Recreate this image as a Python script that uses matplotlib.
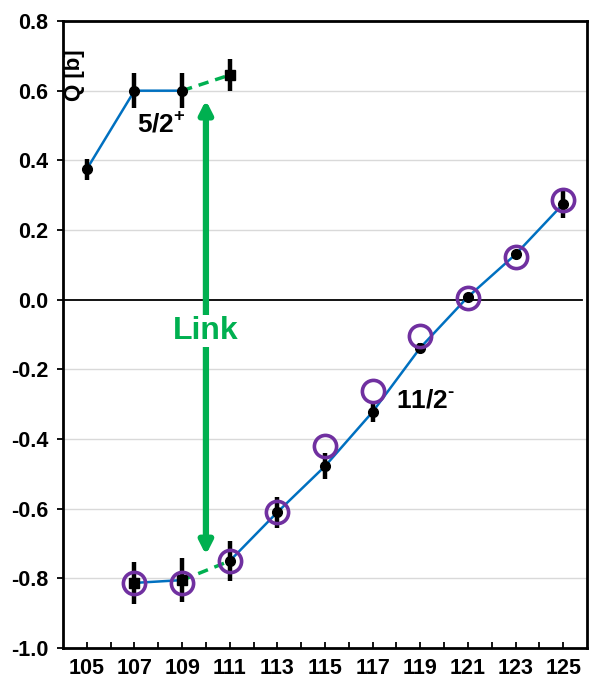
import matplotlib
matplotlib.use("Agg")
import matplotlib.pyplot as plt
from matplotlib.ticker import FixedLocator

plt.rcParams['font.family'] = ['Liberation Sans', 'DejaVu Sans']
plt.rcParams['mathtext.fontset'] = 'custom'
plt.rcParams['mathtext.rm'] = 'Liberation Sans:bold'
plt.rcParams['mathtext.bf'] = 'Liberation Sans:bold'

# 5/2+ band
upper_n = [105, 107, 109]
upper_q = [0.375, 0.60, 0.60]
upper_err = [0.03, 0.05, 0.05]
upper_link_n = [109, 111]
upper_link_q = [0.60, 0.645]
upper_link_err = 0.047

# 11/2- band: measured values
lower_n = [107, 109, 111, 113, 115, 117, 119, 121, 123, 125]
lower_q = [-0.813, -0.805, -0.75, -0.61, -0.478, -0.322, -0.138, 0.008, 0.13, 0.275]
lower_err = [0.06, 0.063, 0.058, 0.045, 0.037, 0.03, 0.015, 0.008, 0.01, 0.04]
# 11/2- band: calculated values
calc_q = [-0.813, -0.813, -0.75, -0.61, -0.42, -0.262, -0.104, 0.005, 0.123, 0.285]

y_ticks = [-1.0, -0.8, -0.6, -0.4, -0.2, 0.0, 0.2, 0.4, 0.6, 0.8]
x_labels = [105, 107, 109, 111, 113, 115, 117, 119, 121, 123, 125]

blue = '#0070C0'
green = '#00B050'
purple = '#7030A0'

fig = plt.figure(figsize=(5.89, 6.78), dpi=100)
ax = fig.add_axes([0.107, 0.0442, 0.8896, 0.9248])
ax.set_xlim(104, 126)
ax.set_ylim(-1.0, 0.8)

# grid
for y in y_ticks:
    if y not in (0.0, -1.0, 0.8):
        ax.axhline(y, color='#D9D9D9', lw=1.0, zorder=0)
ax.plot([104, 125.8], [0, 0], color='black', lw=1.3, zorder=1)

# connecting lines
ax.plot(upper_n, upper_q, color=blue, lw=1.8, zorder=2)
ax.plot(upper_link_n, upper_link_q, color=green, lw=2.5, ls=(0, (3, 2)), zorder=2)
ax.plot(lower_n[:2], lower_q[:2], color=blue, lw=1.8, zorder=2)
ax.plot(lower_n[1:3], lower_q[1:3], color=green, lw=2.5, ls=(0, (3, 2)), zorder=2)
ax.plot(lower_n[2:], lower_q[2:], color=blue, lw=1.8, zorder=2)

# error bars
ekw = dict(fmt='none', ecolor='black', elinewidth=3.2, capsize=0, zorder=3)
ax.errorbar(upper_n, upper_q, yerr=upper_err, **ekw)
ax.errorbar([upper_link_n[1]], [upper_link_q[1]], yerr=[upper_link_err], **ekw)
ax.errorbar(lower_n, lower_q, yerr=lower_err, **ekw)

# measured points
ax.plot(upper_n, upper_q, 'o', color='black', ms=7, zorder=4)
ax.plot([upper_link_n[1]], [upper_link_q[1]], 's', color='black', ms=7, zorder=4)
ax.plot(lower_n[:2], lower_q[:2], 's', color='black', ms=7, zorder=4)
ax.plot(lower_n[2:], lower_q[2:], 'o', color='black', ms=7, zorder=4)

# calculated points
ax.plot(lower_n, calc_q, 'o', mfc='none', mec=purple, mew=2.6, ms=16, zorder=5)

# link arrow
ax.annotate('', xy=(110, -0.733), xytext=(110, 0.573),
            arrowprops=dict(arrowstyle='<|-|>,head_length=0.75,head_width=0.38',
                            color=green, lw=4.5, shrinkA=0, shrinkB=0), zorder=3)
ax.text(110, -0.09, 'Link', color=green, fontsize=23, fontweight='bold',
        ha='center', va='center', zorder=6,
        bbox=dict(facecolor='white', edgecolor='none', pad=1.0))

# state labels
ax.text(107.1, 0.505, r'5/2$^{\mathbf{+}}$', fontsize=19, fontweight='bold',
        ha='left', va='center', zorder=6)
ax.text(118.0, -0.29, r'11/2$^{\text{-}}$', fontsize=19, fontweight='bold',
        ha='left', va='center', zorder=6)
ax.text(104.5, 0.645, 'Q [b]', rotation=90, fontsize=16, fontweight='bold',
        ha='center', va='center', zorder=6)

# axes styling
for s in ax.spines.values():
    s.set_linewidth(2.0)
    s.set_color('black')
ax.yaxis.set_major_locator(FixedLocator(y_ticks))
ax.set_yticklabels([f'{v:.1f}' for v in y_ticks])
ax.tick_params(axis='y', direction='out', length=4.5, width=1.3, labelsize=15.5, pad=6)
ax.xaxis.set_major_locator(FixedLocator(list(range(105, 126))))
ax.set_xticklabels([str(v) if v in x_labels else '' for v in range(105, 126)])
ax.tick_params(axis='x', direction='in', length=4, width=1.3, labelsize=15.5, pad=7)
for lbl in ax.get_xticklabels() + ax.get_yticklabels():
    lbl.set_fontweight('bold')

fig.savefig('out.png', dpi=100)
